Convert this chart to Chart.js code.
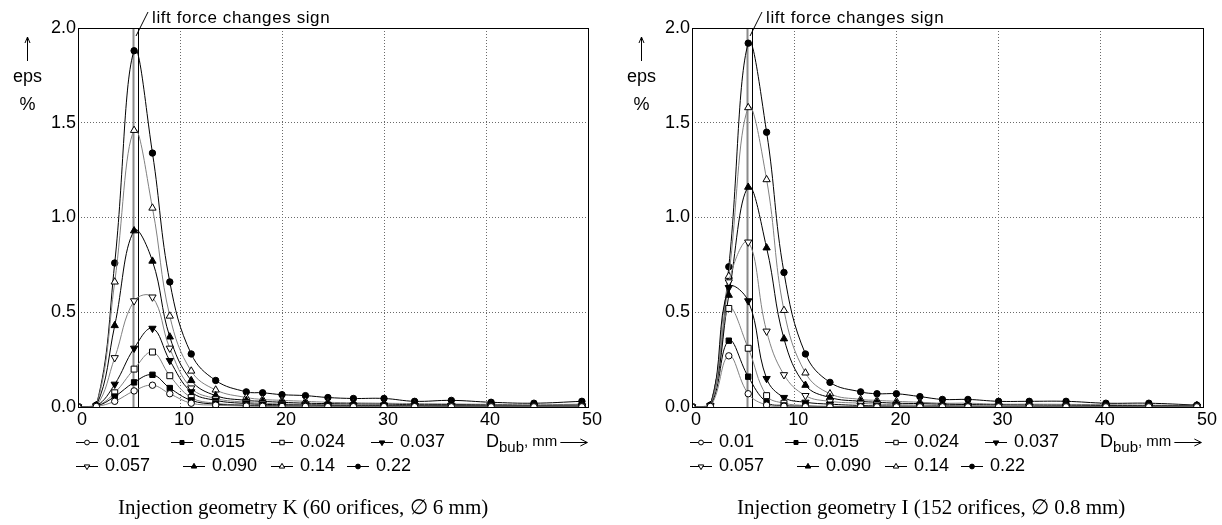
<!DOCTYPE html>
<html>
<head>
<meta charset="utf-8">
<script src="https://cdn.jsdelivr.net/npm/chart.js@4"></script>
<style>
  body { margin: 0; background: #fff; width: 1222px; height: 525px; overflow: hidden; position: relative; }
  canvas { position: absolute; top: 0; }
</style>
</head>
<body>
<canvas id="chartK" width="611" height="525" style="left:0"></canvas>
<canvas id="chartI" width="611" height="525" style="left:611px"></canvas>
<script>
  /* ===== Data ===== */

  // bubble diameter classes, mm
  const dBub = [0, 1.8, 3.6, 5.5, 7.3, 9.0, 11.1, 13.5, 16.5, 18.1, 20.0, 22.3, 24.5, 27.0, 30.0, 33.0, 36.6, 40.5, 44.7, 49.4];
  const flowLabels = ['0.01', '0.015', '0.024', '0.037', '0.057', '0.090', '0.14', '0.22'];
  const xTickValues = [0, 10, 20, 30, 40, 50];
  const yTickLabels = ['0.0', '0.5', '1.0', '1.5', '2.0'];
  const liftSignD = [5.4, 5.85];

  // geometry K (60 orifices, 6 mm)
  const k010 = [0, 0.003, 0.03, 0.085, 0.115, 0.07, 0.02, 0.01, 0.005, 0.004, 0.003, 0.003, 0.002, 0.002, 0.002, 0.002, 0.001, 0.001, 0.001, 0.001];
  const k015 = [0, 0.004, 0.055, 0.13, 0.17, 0.10, 0.035, 0.015, 0.008, 0.006, 0.005, 0.004, 0.004, 0.003, 0.003, 0.003, 0.002, 0.002, 0.002, 0.002];
  const k024 = [0, 0.004, 0.075, 0.20, 0.29, 0.165, 0.05, 0.02, 0.01, 0.008, 0.007, 0.006, 0.005, 0.005, 0.004, 0.004, 0.004, 0.003, 0.003, 0.003];
  const k037 = [0, 0.005, 0.12, 0.31, 0.415, 0.245, 0.08, 0.035, 0.018, 0.014, 0.012, 0.01, 0.009, 0.008, 0.007, 0.006, 0.006, 0.005, 0.004, 0.004];
  const k057 = [0, 0.006, 0.26, 0.56, 0.58, 0.31, 0.10, 0.045, 0.025, 0.02, 0.016, 0.014, 0.012, 0.01, 0.01, 0.008, 0.008, 0.007, 0.006, 0.006];
  const k090 = [0, 0.007, 0.43, 0.93, 0.77, 0.37, 0.14, 0.06, 0.035, 0.03, 0.025, 0.02, 0.018, 0.016, 0.015, 0.012, 0.012, 0.01, 0.008, 0.01];
  const k140 = [0, 0.008, 0.66, 1.46, 1.05, 0.48, 0.19, 0.09, 0.05, 0.04, 0.035, 0.03, 0.025, 0.022, 0.02, 0.018, 0.016, 0.014, 0.012, 0.015];
  const k220 = [0, 0.01, 0.76, 1.88, 1.34, 0.66, 0.28, 0.14, 0.08, 0.075, 0.065, 0.06, 0.05, 0.045, 0.045, 0.03, 0.035, 0.025, 0.02, 0.03];

  // geometry I (152 orifices, 0.8 mm)
  const i010 = [0, 0.003, 0.27, 0.07, 0.01, 0.004, 0.002, 0.001, 0.001, 0.001, 0.001, 0.001, 0.001, 0.001, 0.001, 0.001, 0.001, 0.001, 0.001, 0.001];
  const i015 = [0, 0.004, 0.35, 0.16, 0.025, 0.008, 0.004, 0.002, 0.002, 0.002, 0.001, 0.001, 0.001, 0.001, 0.001, 0.001, 0.001, 0.001, 0.001, 0.001];
  const i024 = [0, 0.005, 0.52, 0.31, 0.06, 0.02, 0.008, 0.004, 0.003, 0.003, 0.002, 0.002, 0.002, 0.002, 0.002, 0.002, 0.002, 0.001, 0.001, 0.001];
  const i037 = [0, 0.006, 0.63, 0.56, 0.15, 0.05, 0.025, 0.015, 0.008, 0.006, 0.005, 0.004, 0.004, 0.003, 0.003, 0.003, 0.003, 0.002, 0.002, 0.002];
  const i057 = [0, 0.006, 0.66, 0.87, 0.40, 0.17, 0.06, 0.03, 0.02, 0.015, 0.012, 0.01, 0.008, 0.007, 0.006, 0.005, 0.005, 0.004, 0.004, 0.003];
  const i090 = [0, 0.007, 0.59, 1.16, 0.84, 0.36, 0.115, 0.05, 0.03, 0.025, 0.02, 0.018, 0.015, 0.013, 0.011, 0.01, 0.009, 0.008, 0.007, 0.005];
  const i140 = [0, 0.008, 0.69, 1.58, 1.20, 0.51, 0.18, 0.07, 0.04, 0.035, 0.03, 0.025, 0.02, 0.02, 0.015, 0.015, 0.014, 0.012, 0.01, 0.008];
  const i220 = [0, 0.01, 0.74, 1.92, 1.45, 0.71, 0.28, 0.13, 0.08, 0.07, 0.07, 0.055, 0.04, 0.04, 0.03, 0.03, 0.03, 0.02, 0.02, 0.01];

  /* ===== Styles ===== */

  const marks = [
    { style: 'circle', rot: 0, fill: '#fff', r: 3.2 },
    { style: 'rect', rot: 0, fill: '#000', r: 3.8 },
    { style: 'rect', rot: 0, fill: '#fff', r: 4.2 },
    { style: 'triangle', rot: 180, fill: '#000', r: 4.2 },
    { style: 'triangle', rot: 180, fill: '#fff', r: 4.2 },
    { style: 'triangle', rot: 0, fill: '#000', r: 4.2 },
    { style: 'triangle', rot: 0, fill: '#fff', r: 4.2 },
    { style: 'circle', rot: 0, fill: '#000', r: 3.2 }
  ];
  const lineColors = ['#808080', '#000', '#808080', '#000', '#808080', '#000', '#808080', '#000'];

  const SANS = '"Liberation Sans", Arial, sans-serif';
  const SERIF = '"Liberation Serif", "Times New Roman", serif';
  Chart.defaults.font.family = SANS;
  Chart.defaults.color = '#000';

  /* ===== Decorations: frame, lift line, labels, legend, caption ===== */

  const decor = {
    id: 'decor',
    beforeDatasetsDraw(chart) {
      const { ctx, chartArea: a, scales: { x } } = chart;
      ctx.save();
      liftSignD.forEach((d, n) => {
        const px = Math.round(x.getPixelForValue(d)) + 0.5;
        ctx.strokeStyle = n ? '#000' : '#8a8a8a';
        ctx.lineWidth = n ? 1 : 2;
        ctx.beginPath();
        ctx.moveTo(px, a.top);
        ctx.lineTo(px, a.bottom);
        ctx.stroke();
      });
      ctx.restore();
    },
    afterDraw(chart, args, opts) {
      const { ctx, chartArea: a, scales: { x } } = chart;
      ctx.save();

      // frame
      ctx.strokeStyle = '#000';
      ctx.lineWidth = 1;
      ctx.strokeRect(Math.round(a.left) + 0.5, Math.round(a.top) + 0.5,
        Math.round(a.right - a.left), Math.round(a.bottom - a.top));

      // y label with arrow
      const ax = a.left - 50.5;
      ctx.beginPath();
      ctx.moveTo(ax, 61); ctx.lineTo(ax, 37);
      ctx.moveTo(ax - 2.5, 43); ctx.lineTo(ax, 37); ctx.lineTo(ax + 2.5, 43);
      ctx.stroke();
      ctx.fillStyle = '#000';
      ctx.font = '18px ' + SANS;
      ctx.textAlign = 'center';
      ctx.textBaseline = 'middle';
      ctx.fillText('eps', ax, 77);
      ctx.fillText('%', ax, 105);

      // lift force annotation
      const pb = Math.round(x.getPixelForValue(liftSignD[1]));
      ctx.beginPath();
      ctx.moveTo(pb - 2, a.top + 8);
      ctx.lineTo(pb + 10, a.top - 16);
      ctx.stroke();
      ctx.font = '17px ' + SANS;
      ctx.letterSpacing = '0.6px';
      ctx.textAlign = 'left';
      ctx.textBaseline = 'alphabetic';
      ctx.fillText('lift force changes sign', pb + 14, 23);
      ctx.letterSpacing = '0px';

      // legend
      const rows = [[0, 1, 2, 3], [4, 5, 6, 7]];
      const cxs = [[9, 104, 204, 304], [9, 116, 204, 280]];
      const rowY = [442, 466];
      ctx.font = '18px ' + SANS;
      ctx.textBaseline = 'middle';
      rows.forEach((row, r) => {
        row.forEach((n, c) => {
          const cx = a.left + cxs[r][c];
          const cy = rowY[r];
          ctx.strokeStyle = '#000';
          ctx.lineWidth = 1;
          ctx.beginPath();
          ctx.moveTo(cx - 11, cy + 0.5); ctx.lineTo(cx + 11, cy + 0.5);
          ctx.stroke();
          const m = marks[n];
          ctx.fillStyle = m.fill;
          Chart.helpers.drawPoint(ctx, { pointStyle: m.style, rotation: m.rot, radius: m.r * 0.75, borderWidth: 1 }, cx, cy + 0.5);
          ctx.fillStyle = '#000';
          ctx.fillText(flowLabels[n], cx + 18, cy);
        });
      });

      // D_bub, mm -->
      let tx = a.left + 408;
      const ty = rowY[0];
      ctx.font = '18px ' + SANS;
      ctx.fillText('D', tx, ty);
      tx += ctx.measureText('D').width;
      ctx.font = '15px ' + SANS;
      ctx.fillText('bub', tx, ty + 6);
      tx += ctx.measureText('bub').width;
      ctx.fillText(', mm', tx, ty);
      tx += ctx.measureText(', mm').width + 3;
      ctx.beginPath();
      ctx.moveTo(tx, ty + 0.5); ctx.lineTo(tx + 27, ty + 0.5);
      ctx.moveTo(tx + 20, ty - 3); ctx.lineTo(tx + 27, ty + 0.5); ctx.lineTo(tx + 20, ty + 4);
      ctx.stroke();

      // caption
      ctx.font = '21px ' + SERIF;
      ctx.textAlign = 'left';
      ctx.fillText(opts.caption, a.left + opts.captionDx, 508);
      ctx.restore();
    }
  };

  /* ===== Build charts ===== */

  function makeChart(id, series, yWidth, padRight, caption, captionDx) {
    const datasets = series.map((vals, n) => ({
      label: flowLabels[n],
      data: dBub.map((d, j) => ({ x: d, y: vals[j] })),
      borderColor: lineColors[n],
      borderWidth: 1,
      tension: 0.4,
      pointStyle: marks[n].style,
      pointRotation: marks[n].rot,
      pointRadius: marks[n].r,
      pointBackgroundColor: marks[n].fill,
      pointBorderColor: '#000',
      pointBorderWidth: 1
    }));

    return new Chart(document.getElementById(id), {
      type: 'line',
      data: { datasets },
      plugins: [decor],
      options: {
        responsive: false,
        animation: false,
        events: [],
        layout: { padding: { top: 28, right: padRight, left: 0, bottom: 0 } },
        plugins: {
          legend: { display: false },
          tooltip: { enabled: false },
          decor: { caption, captionDx }
        },
        scales: {
          x: {
            type: 'linear',
            min: 0,
            max: 50,
            afterBuildTicks: s => { s.ticks = xTickValues.map(v => ({ value: v })); },
            ticks: { color: '#000', font: { size: 18 }, padding: 2, maxRotation: 0, labelOffset: 4 },
            grid: {
              color: c => (c.tick && (c.tick.value === 0 || c.tick.value === 50)) ? 'rgba(0,0,0,0)' : '#6a6a6a',
              lineWidth: 1,
              drawTicks: false
            },
            border: { display: false, dash: [1, 2] },
            afterFit: s => { s.height = 118; }
          },
          y: {
            min: 0,
            max: 2,
            afterBuildTicks: s => { s.ticks = yTickLabels.map(t => ({ value: parseFloat(t) })); },
            ticks: {
              color: '#000',
              font: { size: 18 },
              padding: 2,
              callback: (v, i) => yTickLabels[i]
            },
            grid: {
              color: c => (c.tick && (c.tick.value === 0 || c.tick.value === 2)) ? 'rgba(0,0,0,0)' : '#6a6a6a',
              lineWidth: 1,
              drawTicks: false
            },
            border: { display: false, dash: [1, 2] },
            afterFit: s => { s.width = yWidth; }
          }
        }
      }
    });
  }

  makeChart('chartK', [k010, k015, k024, k037, k057, k090, k140, k220], 78, 23,
    'Injection geometry K (60 orifices, \u2205 6 mm)', 40);
  makeChart('chartI', [i010, i015, i024, i037, i057, i090, i140, i220], 81, 19,
    'Injection geometry I (152 orifices, \u2205 0.8 mm)', 45);
</script>
</body>
</html>
